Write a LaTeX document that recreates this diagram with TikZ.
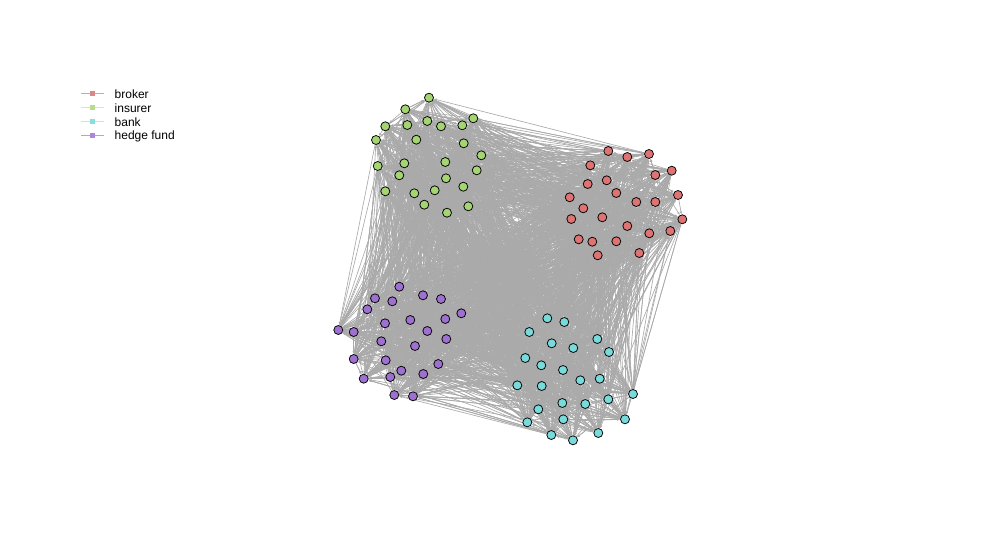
\documentclass[tikz,border=0pt]{standalone}
\usepackage{fontspec}
\setmainfont{Liberation Sans}
\usetikzlibrary{arrows.meta}
\pgfdeclarelayer{bg}
\pgfsetlayers{bg,main}
\definecolor{edgegray}{RGB}{170,170,170}
\definecolor{brokerfill}{RGB}{222,115,115}
\definecolor{insurerfill}{RGB}{165,212,115}
\definecolor{bankfill}{RGB}{120,218,218}
\definecolor{hedgefill}{RGB}{158,112,208}
\definecolor{brokerleg}{RGB}{244,150,150}
\definecolor{insurerleg}{RGB}{200,248,150}
\definecolor{bankleg}{RGB}{150,248,248}
\definecolor{hedgeleg}{RGB}{190,150,244}
\begin{document}
\begin{tikzpicture}[x=1pt,y=-1pt,
  vtx/.style={circle,draw=black,line width=0.75pt,minimum size=9pt,inner sep=0pt},
  edge/.style={draw=edgegray,line width=0.65pt,-{Latex[length=3pt,width=2.4pt]}},
  legline/.style={line width=0.9pt},
  legsq/.style={rectangle,minimum size=4.5pt,inner sep=0pt},
  legtxt/.style={anchor=west,font=\fontsize{12}{14}\selectfont,inner sep=0pt}]
\useasboundingbox (0,0) rectangle (983,557);
% brokers 1-25
\foreach \i/\x/\y in {1/608.3/151,2/627.3/157,3/649/154,4/590.3/165.3,5/671.7/170.7,6/655.3/175,7/587.7/184,8/606.7/180.3,9/616.3/193,10/569.7/197.3,11/636.3/202,12/655.3/202,13/678/195,14/583.3/208.3,15/602.3/217.3,16/571.3/219,17/682.3/219.3,18/627.3/226,19/670.3/231,20/649.3/233.3,21/578.7/239.3,22/592.3/241.7,23/616.3/241.3,24/639.3/253,25/597.7/255.3}
  \node[vtx,fill=brokerfill] (n\i) at (\x,\y) {};
% insurers 26-50
\foreach \i/\x/\y in {26/429/97.7,27/405.3/109.3,28/427.3/121,29/441/126.3,30/462.3/125.3,31/473.3/118.3,32/385.3/126.3,33/407.3/125,34/376/140,35/416.3/139.7,36/463.7/143.3,37/481.3/155.3,38/377.7/166,39/404.3/163.3,40/445.3/162,41/476.7/170.3,42/399.3/175.3,43/446/178.3,44/385.3/191.3,45/414.3/193.3,46/434.7/190.3,47/463.3/186.7,48/424.3/204.7,49/468.3/206.3,50/447/212.7}
  \node[vtx,fill=insurerfill] (n\i) at (\x,\y) {};
% hedge funds 51-75
\foreach \i/\x/\y in {51/399.3/286.7,52/375/298.3,53/392.3/301.3,54/423/295.3,55/441/299,56/367.3/309.3,57/461.3/313.3,58/385/323.3,59/410.3/320,60/445.3/319,61/338.3/330,62/353.7/332,63/427.3/331,64/381.3/341.3,65/446.3/339,66/415/346,67/353.7/359,68/385.7/360.3,69/438.3/364,70/401.3/370.7,71/363.7/378.7,72/390.3/377,73/423.3/374,74/394.3/395,75/413/396.3}
  \node[vtx,fill=hedgefill] (n\i) at (\x,\y) {};
% banks 76-100
\foreach \i/\x/\y in {76/547.3/318.3,77/564.3/322,78/529.3/332,79/597.3/339,80/551.7/343.3,81/573.3/348,82/609/352,83/525.3/358,84/541.3/365.3,85/563/370,86/580.3/380.3,87/599.7/378.7,88/517.3/385.3,89/541.7/386,90/633/394,91/608.3/399.3,92/585.3/404,93/562.3/403,94/538.3/409.3,95/625/419.3,96/563.3/419.3,97/527.3/422.3,98/598.3/433,99/551.3/435,100/573/440.3}
  \node[vtx,fill=bankfill] (n\i) at (\x,\y) {};
% edges
\begin{pgfonlayer}{bg}
\fill[white] (0,0) rectangle (983,557);
\pgfmathsetseed{4242}
\foreach \k in {1,...,2500}{
  \pgfmathrandominteger{\ea}{1}{100}
  \pgfmathrandominteger{\eb}{1}{100}
  \ifnum\ea=\eb\relax\else\draw[edge] (n\ea) -- (n\eb);\fi
}
\end{pgfonlayer}
% legend
\foreach \j/\y/\c/\t in {1/93.5/broker/broker,2/107.5/insurer/insurer,3/121.5/bank/bank,4/135.5/hedge/hedge fund}{
  \coordinate (la\j) at (81,\y);
  \coordinate (lb\j) at (104,\y);
  \draw[legline,draw=\c leg] (la\j) -- (lb\j);
  \node[legsq,fill=\c leg!90!black] (ls\j) at (92.5,\y) {};
  \node[legtxt] (lt\j) at (114.5,\y+0.9) {\t};
}
\end{tikzpicture}
\end{document}
